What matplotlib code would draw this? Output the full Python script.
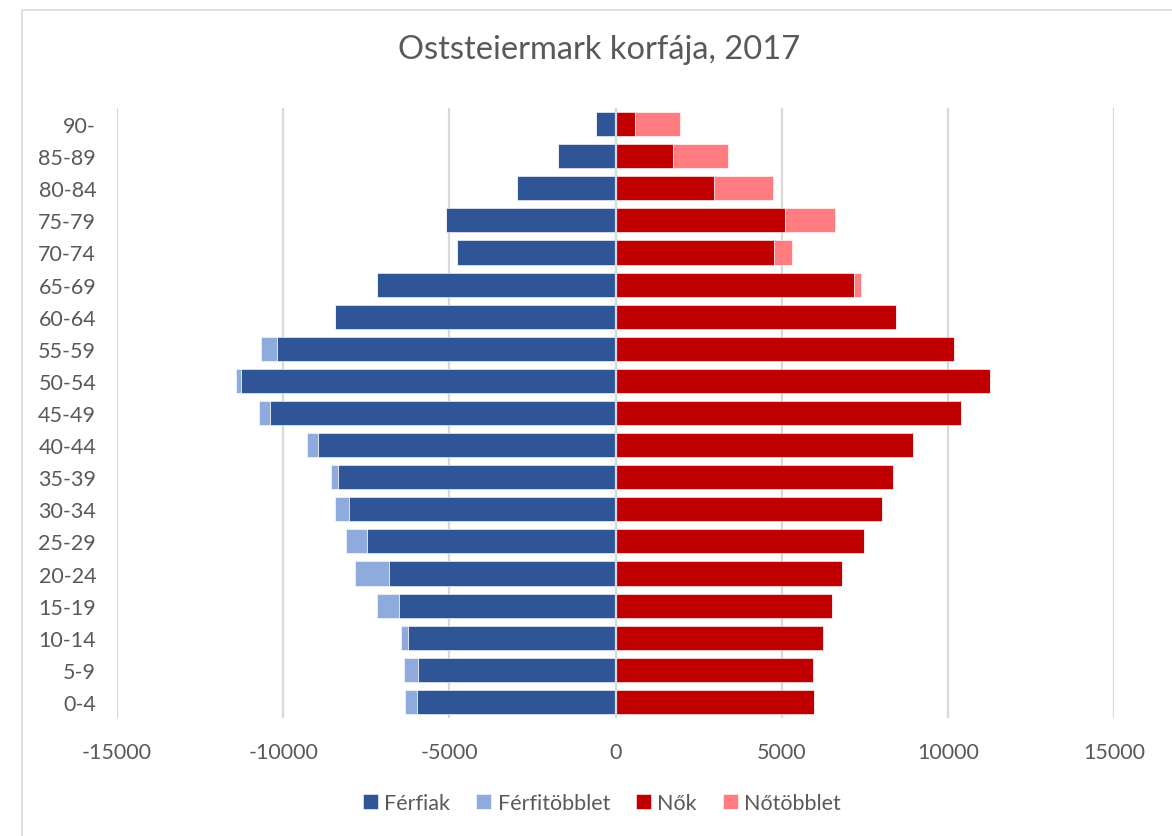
import numpy as np
import matplotlib
matplotlib.use('Agg')
import matplotlib.pyplot as plt
from matplotlib.patches import Rectangle

# Age groups, bottom to top
age_groups = ['0-4', '5-9', '10-14', '15-19', '20-24', '25-29', '30-34', '35-39',
              '40-44', '45-49', '50-54', '55-59', '60-64', '65-69', '70-74',
              '75-79', '80-84', '85-89', '90-']
males = [6322, 6355, 6452, 7178, 7834, 8108, 8452, 8572, 9274, 10714,
         11416, 10654, 8440, 7190, 4755, 5095, 2970, 1730, 600]
females = [5970, 5940, 6240, 6505, 6825, 7480, 8015, 8345, 8945, 10395,
           11275, 10200, 8440, 7390, 5320, 6610, 4750, 3400, 1945]
series_names = ['Férfiak', 'Férfitöbblet', 'Nők', 'Nőtöbblet']
x_ticks = [-15000, -10000, -5000, 0, 5000, 10000, 15000]

m = np.array(males)
f = np.array(females)
common = np.minimum(m, f)
male_surplus = np.clip(m - f, 0, None)
female_surplus = np.clip(f - m, 0, None)

plt.rcParams['font.family'] = ['Lato', 'DejaVu Sans']
TEXT = '#595959'
GRID = '#D9D9D9'

fig = plt.figure(figsize=(11.72, 8.37), dpi=100)
ax = fig.add_axes([117 / 1172, 1 - 719 / 837, (1114 - 117) / 1172, 610 / 837])

y = np.arange(len(age_groups))
h = 0.75
kw = dict(height=h, edgecolor='white', linewidth=0.4, zorder=2)
ax.barh(y, -common, color='#2F5597', label=series_names[0], **kw)
ax.barh(y, -male_surplus, left=-common, color='#8FAADC', label=series_names[1], **kw)
ax.barh(y, common, color='#C00000', label=series_names[2], **kw)
ax.barh(y, female_surplus, left=common, color='#FF7C80', label=series_names[3], **kw)

ax.set_xlim(-15000, 15000)
ax.set_ylim(-0.5, len(age_groups) - 0.5)
ax.set_xticks(x_ticks)
ax.set_xticklabels([str(v) for v in x_ticks])
ax.set_yticks(y)
ax.set_yticklabels(age_groups)
ax.tick_params(axis='both', length=0, labelsize=15.5, colors=TEXT)
ax.tick_params(axis='y', pad=15)
ax.tick_params(axis='x', pad=17)
ax.grid(axis='x', color=GRID, linewidth=1.6, zorder=0)
ax.axvline(0, color=GRID, linewidth=1.6, zorder=3)
for s in ax.spines.values():
    s.set_visible(False)

fig.text(599 / 1172, 1 - 50 / 837, 'Oststeiermark korfája, 2017',
         ha='center', va='center', fontsize=23.5, color=TEXT)

leg = fig.legend(loc='center', bbox_to_anchor=(602 / 1172, 1 - 804 / 837), ncol=4,
                 frameon=False, fontsize=15.5, handlelength=0.7, handleheight=0.7,
                 handletextpad=0.3, columnspacing=1.2)
for t in leg.get_texts():
    t.set_color(TEXT)

# chart border, cropped at right and bottom
fig.patches.append(Rectangle((22 / 1172, -0.1), 2, 1.1 - 11 / 837, transform=fig.transFigure,
                             fill=False, edgecolor=GRID, linewidth=1.2))

plt.savefig('out.png', dpi=100)
